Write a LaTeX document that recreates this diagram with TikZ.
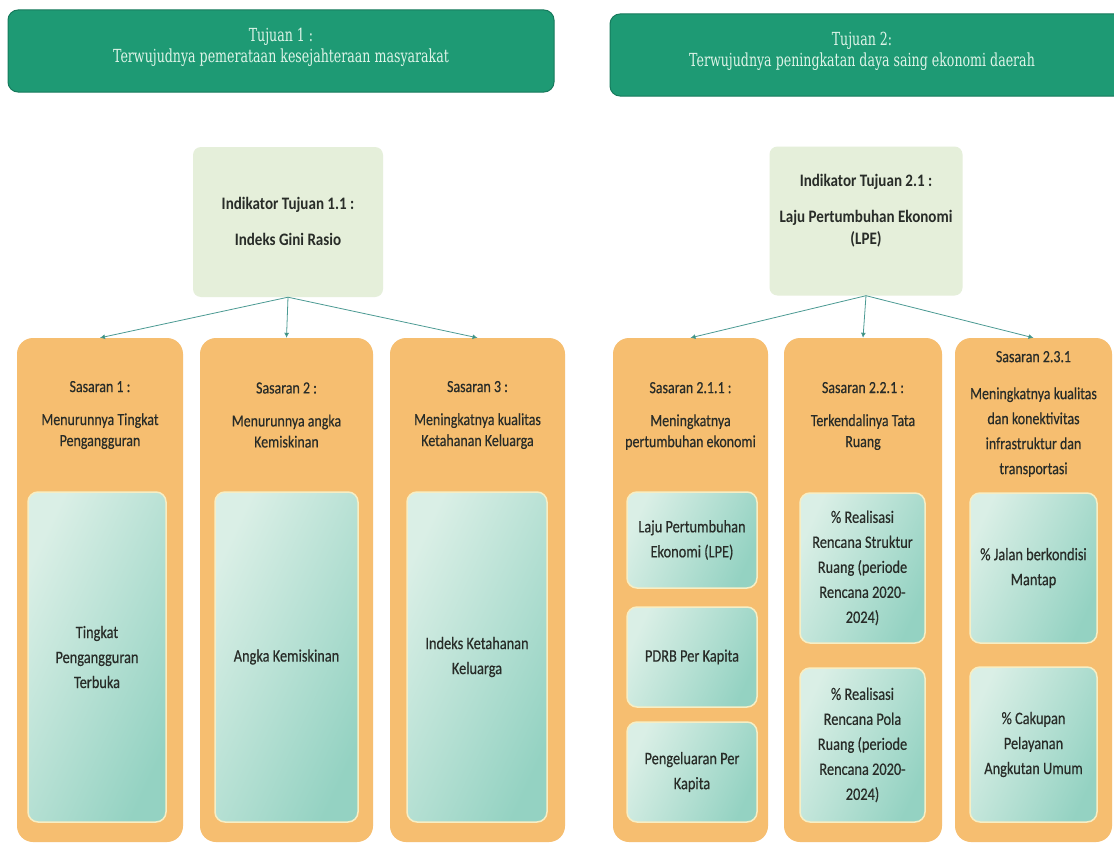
\documentclass[tikz,border=0pt]{standalone}
\usepackage{fontspec}
\setmainfont{Carlito}[FakeStretch=0.82,FakeBold=0.4]
\newfontfamily\bannerfont{DejaVu Serif}[FakeStretch=0.7]
\newfontfamily\indicfont{Carlito}[FakeStretch=0.86]
\usetikzlibrary{arrows.meta}

\definecolor{bannerfill}{RGB}{30,154,116}
\definecolor{bannerline}{RGB}{22,122,92}
\definecolor{bannertext}{RGB}{222,244,232}
\definecolor{indicfill}{RGB}{229,239,218}
\definecolor{orangefill}{RGB}{246,190,112}
\definecolor{innerleft}{RGB}{218,239,230}
\definecolor{innerright}{RGB}{148,210,194}
\definecolor{innerline}{RGB}{247,238,196}
\definecolor{linkcol}{RGB}{75,154,147}
\definecolor{tipcol}{RGB}{46,139,99}
\definecolor{inktext}{RGB}{40,44,40}

\begin{document}
\begin{tikzpicture}[x=1pt,y=-1pt,
  banner/.style={fill=bannerfill, draw=bannerline, line width=1pt, rounded corners=10pt,
    inner sep=0pt},
  bannerlabel/.style={align=center, text=bannertext,
    font=\bannerfont\fontsize{18}{21}\selectfont},
  indic/.style={fill=indicfill, rounded corners=8pt, inner sep=0pt},
  indictext/.style={align=center, text=inktext, font=\indicfont\bfseries\fontsize{17.5}{22}\selectfont},
  goalbox/.style={fill=orangefill, rounded corners=16pt, inner sep=0pt},
  goaltext/.style={align=center, text=inktext, font=\fontsize{17}{21}\selectfont},
  measure/.style={left color=innerleft, right color=innerright, shading angle=65,
    draw=innerline, line width=1.5pt, rounded corners=10pt, inner sep=2pt, align=center,
    text=inktext, font=\fontsize{17.5}{25}\selectfont},
  link/.style={draw=linkcol, line width=0.8pt,
    -{Latex[length=5pt,width=5pt,fill=tipcol]}}
]
\clip (0,0) rectangle (1114,843);
\fill[white] (0,0) rectangle (1114,843);

% goal banners
\node[banner, minimum width=546pt, minimum height=82pt] (b1) at (281,51) {};
\node[bannerlabel] (b1t) at (281,47)
  {Tujuan 1 :\\Terwujudnya pemerataan kesejahteraan masyarakat};
\node[banner, minimum width=514pt, minimum height=82pt] (b2) at (867,55) {};
\node[bannerlabel] (b2t) at (862,51)
  {Tujuan 2:\\Terwujudnya peningkatan daya saing ekonomi daerah};

% indicator boxes
\node[indic, minimum width=190pt, minimum height=150pt] (i1) at (288,222) {};
\node[indictext] (i1t) at (288,221) {Indikator Tujuan 1.1 :\\[14pt]Indeks Gini Rasio};
\node[indic, minimum width=193pt, minimum height=149pt] (i2) at (866,221) {};
\node[indictext] (i2t) at (866,211) {Indikator Tujuan 2.1 :\\[14pt]Laju Pertumbuhan Ekonomi\\(LPE)};

% target columns
\node[goalbox, minimum width=166pt, minimum height=504pt] (s1) at (100,590) {};
\node[goalbox, minimum width=173pt, minimum height=504pt] (s2) at (286.5,590) {};
\node[goalbox, minimum width=175pt, minimum height=504pt] (s3) at (477.5,590) {};
\node[goalbox, minimum width=155pt, minimum height=504pt] (s4) at (690.5,590) {};
\node[goalbox, minimum width=158pt, minimum height=504pt] (s5) at (863,590) {};
\node[goalbox, minimum width=157pt, minimum height=504pt] (s6) at (1033.5,590) {};

% target titles
\node[goaltext] (s1t) at (100,415) {Sasaran 1 :\\[12pt]Menurunnya Tingkat\\Pengangguran};
\node[goaltext] (s2t) at (286.5,415) {Sasaran 2 :\\[12pt]Menurunnya angka\\Kemiskinan};
\node[goaltext] (s3t) at (477.5,415) {Sasaran 3 :\\[12pt]Meningkatnya kualitas\\Ketahanan Keluarga};
\node[goaltext] (s4t) at (690.5,416) {Sasaran 2.1.1 :\\[12pt]Meningkatnya\\pertumbuhan ekonomi};
\node[goaltext] (s5t) at (863,416) {Sasaran 2.2.1 :\\[12pt]Terkendalinya Tata\\Ruang};
\node[goaltext, font=\fontsize{17}{25}\selectfont] (s6t) at (1033.5,414)
  {Sasaran 2.3.1\\[12pt]Meningkatnya kualitas\\dan konektivitas\\infrastruktur dan\\transportasi};

% performance measures
\node[measure, minimum width=138pt, minimum height=330pt] (m1) at (97,657)
  {Tingkat\\Pengangguran\\Terbuka};
\node[measure, minimum width=143pt, minimum height=330pt] (m2) at (286.5,657)
  {Angka Kemiskinan};
\node[measure, minimum width=140pt, minimum height=330pt] (m3) at (477,657)
  {Indeks Ketahanan\\Keluarga};
\node[measure, minimum width=130pt, minimum height=96pt] (m4a) at (692,540)
  {Laju Pertumbuhan\\Ekonomi (LPE)};
\node[measure, minimum width=130pt, minimum height=100pt] (m4b) at (692,657)
  {PDRB Per Kapita};
\node[measure, minimum width=130pt, minimum height=100pt] (m4c) at (692,772)
  {Pengeluaran Per\\Kapita};
\node[measure, minimum width=125pt, minimum height=150pt] (m5a) at (862.5,568)
  {\% Realisasi\\Rencana Struktur\\Ruang (periode\\Rencana 2020-\\2024)};
\node[measure, minimum width=125pt, minimum height=154pt] (m5b) at (862.5,745)
  {\% Realisasi\\Rencana Pola\\Ruang (periode\\Rencana 2020-\\2024)};
\node[measure, minimum width=127pt, minimum height=150pt] (m6a) at (1033.5,568)
  {\% Jalan berkondisi\\Mantap};
\node[measure, minimum width=127pt, minimum height=155pt] (m6b) at (1033.5,744.5)
  {\% Cakupan\\Pelayanan\\Angkutan Umum};

% connectors
\foreach \t in {s1,s2,s3} \draw[link] (i1.south) -- (\t.north);
\foreach \t in {s4,s5,s6} \draw[link] (i2.south) -- (\t.north);
\end{tikzpicture}
\end{document}
